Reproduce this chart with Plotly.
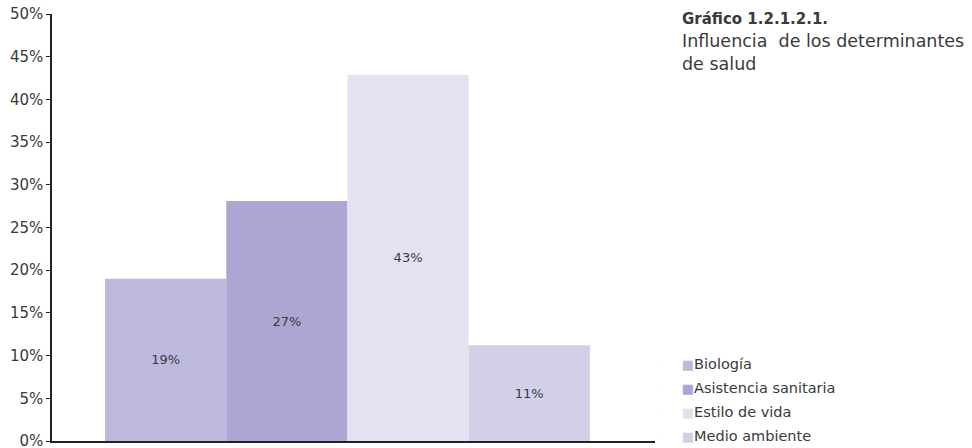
import plotly.graph_objects as go

categories = ["Biología", "Asistencia sanitaria", "Estilo de vida", "Medio ambiente"]
values = [0.19, 0.281, 0.429, 0.112]
labels = ["19%", "27%", "43%", "11%"]
colors = ["#BDB9DC", "#ACA6D2", "#E4E2F2", "#D2CFE8"]
ytick_vals = [i * 0.05 for i in range(11)]

FONT = "DejaVu Sans"
TXT = "#3a3a3a"

fig = go.Figure()
for name, v, lab, col in zip(categories, values, labels, colors):
    fig.add_trace(go.Bar(
        x=[""], y=[v], text=[lab], name=name,
        marker=dict(color=col, line=dict(width=0)),
        textposition="inside", insidetextanchor="middle",
        textfont=dict(family=FONT, size=13, color=TXT),
        showlegend=False, hoverinfo="skip",
    ))
    fig.add_trace(go.Scatter(
        x=[None], y=[None], mode="markers",
        name=f'<span style="color:{col};font-size:13px">■</span>{name}',
        marker=dict(color=col, size=1, opacity=0),
        showlegend=True, legendgroup=name,
    ))

fig.update_layout(
    width=972, height=448,
    margin=dict(l=52, r=317, t=14, b=7, autoexpand=False),
    plot_bgcolor="white", paper_bgcolor="white",
    barmode="group", bargap=0.196, bargroupgap=0,
    font=dict(family=FONT, color=TXT),
    xaxis=dict(showline=True, linecolor="#222", linewidth=1.5,
               showticklabels=False, ticks="", range=[-0.49, 0.51],
               showgrid=False, zeroline=False),
    yaxis=dict(range=[0, 0.5], tickvals=ytick_vals, tickformat=".0%",
               showline=True, linecolor="#222", linewidth=1.5,
               ticks="outside", ticklen=4, tickcolor="#222",
               showgrid=False, zeroline=False, automargin=False,
               ticklabeloverflow="allow",
               tickfont=dict(family=FONT, size=15, color=TXT)),
    legend=dict(x=0.978, xanchor="left", xref="paper",
                y=-0.025, yanchor="bottom", yref="paper",
                font=dict(family=FONT, size=14.5, color=TXT),
                itemwidth=30, traceorder="grouped", tracegroupgap=2,
                bgcolor="rgba(0,0,0,0)"),
    showlegend=True,
)

fig.add_shape(type="line", xref="paper", yref="paper", x0=1, x1=1,
              y0=0, y1=0, ysizemode="pixel", yanchor=0,
              line=dict(color="#222", width=1.5))

fig.add_annotation(xref="paper", yref="paper", x=1, y=1,
                   xshift=25, yshift=6, yanchor="top", xanchor="left", align="left",
                   showarrow=False,
                   text='<b><span style="font-size:15px">Gráfico 1.2.1.2.1.</span></b><br>Influencia\u00a0 de los determinantes<br>de salud',
                   font=dict(family=FONT, size=17.5, color=TXT))

fig.write_html("out.html")
